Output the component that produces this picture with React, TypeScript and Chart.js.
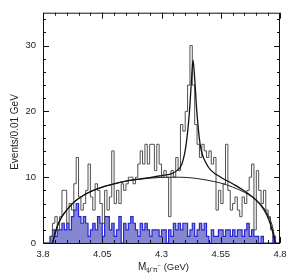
import React, { useEffect, useRef } from "react";
import { Chart, registerables } from "chart.js";

Chart.register(...registerables);

// Histogram: 100 bins of 0.01 GeV from 3.80 to 4.80
const binLow = 3.8;
const binWidth = 0.01;
const dataCounts = [
  0, 0, 0, 0, 1, 3, 4, 2, 4, 8,
  8, 3, 6, 5, 9, 13, 7, 5, 6, 8,
  12, 7, 5, 9, 8, 6, 3, 8, 5, 7,
  14, 6, 8, 6, 9, 8, 9, 10, 10, 9,
  10, 12, 14, 12, 15, 12, 15, 15, 11, 15,
  12, 10, 11, 10, 4, 11, 10, 13, 11, 18,
  17, 20, 24, 30, 24, 18, 15, 13, 15, 14,
  13, 14, 12, 13, 5, 8, 6, 9, 15, 8,
  5, 6, 7, 5, 4, 7, 6, 8, 10, 12,
  2, 11, 8, 6, 8, 5, 4, 2, 1, 0,
];
const bkgCounts = [
  0, 0, 0, 0, 1, 2, 1, 2, 2, 3,
  2, 3, 2, 4, 5, 6, 4, 3, 4, 3,
  1, 2, 3, 2, 4, 3, 1, 4, 4, 2,
  3, 1, 2, 4, 0, 3, 2, 3, 4, 3,
  2, 1, 3, 2, 3, 2, 1, 2, 2, 2,
  1, 2, 2, 0, 2, 1, 3, 2, 3, 2,
  3, 3, 1, 2, 3, 1, 2, 3, 2, 3,
  1, 0, 2, 1, 1, 2, 2, 1, 2, 2,
  1, 2, 1, 2, 2, 1, 2, 3, 1, 2,
  1, 1, 0, 1, 0, 0, 0, 0, 1, 0,
];

// Fit curves
const fitX = [3.84, 3.86, 3.88, 3.9, 3.93, 3.96, 4.0, 4.05, 4.1, 4.15, 4.2, 4.25, 4.3, 4.34, 4.365, 4.386, 4.404, 4.418, 4.427, 4.433, 4.44, 4.449, 4.463, 4.49, 4.51, 4.55, 4.6, 4.65, 4.7, 4.73, 4.75, 4.77, 4.78];
const fitY = [0, 2.5, 4.0, 5.0, 6.2, 7.0, 7.8, 8.5, 9.0, 9.4, 9.7, 9.95, 10.25, 10.5, 11.0, 12.0, 15.0, 20.0, 25.0, 27.8, 25.0, 20.0, 15.0, 12.0, 11.0, 10.0, 9.0, 7.9, 6.5, 5.2, 3.8, 1.6, 0];
const bgX = [3.84, 3.86, 3.88, 3.9, 3.93, 3.96, 4.0, 4.05, 4.1, 4.15, 4.2, 4.25, 4.3, 4.35, 4.4, 4.45, 4.5, 4.55, 4.6, 4.65, 4.7, 4.73, 4.75, 4.77, 4.78];
const bgY = [0, 2.5, 4.0, 5.0, 6.2, 7.0, 7.8, 8.5, 9.0, 9.4, 9.65, 9.85, 9.97, 10.0, 9.97, 9.8, 9.5, 9.1, 8.5, 7.7, 6.5, 5.4, 4.2, 2.2, 0];

const xTicks = [3.8, 4.05, 4.3, 4.55, 4.8];
const yTicks = [0, 10, 20, 30];

const FONT = "'Liberation Sans', Arial, Helvetica, sans-serif";

function histPoints(vals: number[]) {
  const pts = vals.map((v, i) => ({ x: binLow + i * binWidth, y: v }));
  pts.push({ x: binLow + vals.length * binWidth, y: vals[vals.length - 1] });
  return pts;
}

const framePlugin = {
  id: "frame",
  afterDatasetsDraw(chart: any) {
    const { ctx, chartArea: a, scales } = chart;
    const xs = scales.x;
    const ys = scales.y;
    ctx.save();
    ctx.strokeStyle = "#111";
    ctx.lineWidth = 1;
    ctx.strokeRect(a.left + 0.5, a.top + 0.5, a.right - a.left - 1, a.bottom - a.top);
    ctx.beginPath();
    for (let k = 0; k <= 20; k++) {
      const v = 3.8 + k * 0.05;
      const px = Math.round(xs.getPixelForValue(v)) + 0.5;
      const len = k % 5 === 0 ? 6 : 3;
      ctx.moveTo(px, a.bottom);
      ctx.lineTo(px, a.bottom - len);
      ctx.moveTo(px, a.top);
      ctx.lineTo(px, a.top + len);
    }
    for (let k = 0; k <= 17; k++) {
      const v = k * 2;
      const py = Math.round(ys.getPixelForValue(v)) + 0.5;
      const len = v % 10 === 0 ? 6 : 3;
      ctx.moveTo(a.left, py);
      ctx.lineTo(a.left + len, py);
      ctx.moveTo(a.right, py);
      ctx.lineTo(a.right - len, py);
    }
    ctx.stroke();

    // axis titles
    ctx.fillStyle = "#222";
    ctx.textBaseline = "alphabetic";
    const cx = (a.left + a.right) / 2;
    const parts = [
      { t: "M", s: 10, dy: 0 },
      { t: "ψ'π", s: 7, dy: 2 },
      { t: "−", s: 6, dy: -3 },
      { t: " (GeV)", s: 9.5, dy: 0 },
    ];
    let w = 0;
    for (const p of parts) {
      ctx.font = `${p.s}px ${FONT}`;
      w += ctx.measureText(p.t).width;
    }
    let x0 = cx - w / 2 + 2;
    const base = 270;
    ctx.textAlign = "left";
    for (const p of parts) {
      ctx.font = `${p.s}px ${FONT}`;
      ctx.fillText(p.t, x0, base + p.dy);
      x0 += ctx.measureText(p.t).width;
    }
    ctx.save();
    ctx.translate(18, 132);
    ctx.rotate(-Math.PI / 2);
    ctx.textAlign = "center";
    ctx.font = `10px ${FONT}`;
    ctx.fillText("Events/0.01 GeV", 0, 0);
    ctx.restore();
    ctx.restore();
  },
};

export default function App() {
  const ref = useRef<HTMLCanvasElement | null>(null);
  useEffect(() => {
    document.body.style.margin = "0";
    const chart = new Chart(ref.current as HTMLCanvasElement, {
      type: "line",
      data: {
        datasets: [
          {
            label: "background events",
            data: histPoints(bkgCounts),
            stepped: "after",
            borderColor: "#2626d4",
            borderWidth: 1.2,
            backgroundColor: "rgba(112,112,200,0.85)",
            fill: "origin",
            pointRadius: 0,
            order: 4,
          },
          {
            label: "data",
            data: histPoints(dataCounts),
            stepped: "after",
            borderColor: "#505050",
            borderWidth: 1,
            fill: false,
            pointRadius: 0,
            order: 3,
          },
          {
            label: "background fit",
            data: bgX.map((x, i) => ({ x, y: bgY[i] })),
            borderColor: "#222",
            borderWidth: 1,
            cubicInterpolationMode: "monotone",
            fill: false,
            pointRadius: 0,
            order: 2,
          },
          {
            label: "total fit",
            data: fitX.map((x, i) => ({ x, y: fitY[i] })),
            borderColor: "#111",
            borderWidth: 1.3,
            cubicInterpolationMode: "monotone",
            fill: false,
            pointRadius: 0,
            order: 1,
          },
        ],
      },
      options: {
        animation: false,
        responsive: false,
        maintainAspectRatio: false,
        layout: { padding: { top: 4, right: 16, left: 0, bottom: 0 } },
        plugins: { legend: { display: false }, tooltip: { enabled: false } },
        scales: {
          x: {
            type: "linear",
            min: 3.8,
            max: 4.8,
            afterBuildTicks: (s: any) => {
              s.ticks = xTicks.map((v) => ({ value: v }));
            },
            afterFit: (s: any) => {
              s.height = 30;
            },
            grid: { display: false, drawTicks: false },
            border: { display: false },
            ticks: {
              color: "#222",
              font: { size: 9.5, family: FONT },
              padding: 6,
              maxRotation: 0,
              autoSkip: false,
              callback: (v: any) => String(Math.round(Number(v) * 100) / 100),
            },
          },
          y: {
            type: "linear",
            min: 0,
            max: 35,
            afterBuildTicks: (s: any) => {
              s.ticks = yTicks.map((v) => ({ value: v }));
            },
            afterFit: (s: any) => {
              s.width = 43;
            },
            grid: { display: false, drawTicks: false },
            border: { display: false },
            ticks: {
              color: "#222",
              font: { size: 9.5, family: FONT },
              padding: 7,
              autoSkip: false,
            },
          },
        },
      },
      plugins: [framePlugin],
    } as any);
    return () => chart.destroy();
  }, []);
  return (
    <div style={{ position: "fixed", left: 0, top: 0, width: 296, height: 273, background: "#fff" }}>
      <canvas ref={ref} width={296} height={273} style={{ width: 296, height: 273, display: "block" }} />
    </div>
  );
}
